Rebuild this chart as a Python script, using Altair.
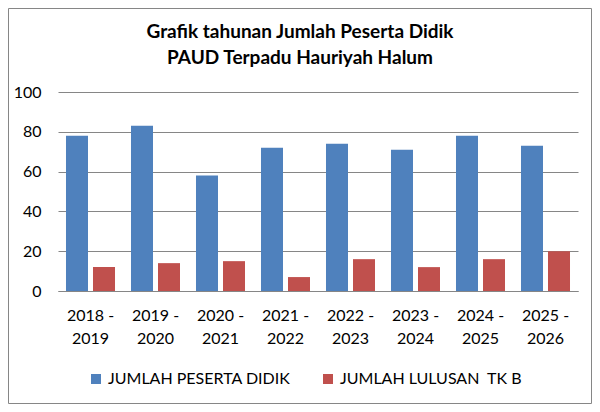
import altair as alt
import pandas as pd

categories = ["2018 - 2019", "2019 - 2020", "2020 - 2021", "2021 - 2022",
              "2022 - 2023", "2023 - 2024", "2024 - 2025", "2025 - 2026"]
series = ["JUMLAH PESERTA DIDIK", "JUMLAH LULUSAN\u00a0 TK B"]
peserta = [78, 83, 58, 72, 74, 71, 78, 73]
lulusan = [12, 14, 15, 7, 16, 12, 16, 20]
colors = ["#4F81BD", "#C0504D"]
title_lines = ["Grafik tahunan Jumlah Peserta Didik", "PAUD Terpadu Hauriyah Halum"]

rows = []
for c, p, l in zip(categories, peserta, lulusan):
    rows.append({"tahun": c, "seri": series[0], "nilai": p})
    rows.append({"tahun": c, "seri": series[1], "nilai": l})
df = pd.DataFrame(rows)

FONT = "Lato"
GRID = "#868686"

bars = alt.Chart(df).mark_bar().encode(
    x=alt.X("tahun:N", sort=categories, title=None,
            scale=alt.Scale(paddingInner=0.246, paddingOuter=0.123),
            axis=alt.Axis(labelAngle=0, ticks=False, domainColor=GRID,
                          labelFont=FONT, labelFontSize=16, labelColor="black",
                          labelPadding=16, labelLineHeight=23,
                          labelExpr="[substring(datum.label,0,6), substring(datum.label,7)]")),
    xOffset=alt.XOffset("seri:N", sort=series,
                        scale=alt.Scale(paddingInner=0.185, paddingOuter=0)),
    y=alt.Y("nilai:Q", title=None,
            scale=alt.Scale(domain=[0, 100]),
            axis=alt.Axis(values=[0, 20, 40, 60, 80, 100], domain=False, ticks=False,
                          gridColor=GRID, gridOpacity=1, labelFont=FONT,
                          labelFontSize=16, labelColor="black", labelPadding=17)),
    color=alt.Color("seri:N", sort=series,
                    scale=alt.Scale(domain=series, range=colors),
                    legend=alt.Legend(title=None, orient="none", legendX=30, legendY=279,
                                      direction="horizontal", symbolType="square",
                                      symbolSize=100, symbolStrokeWidth=0,
                                      labelFont=FONT, labelFontSize=16, labelColor="black",
                                      labelLimit=400, labelOffset=4, columnPadding=29,
                                      padding=0)),
)

border = alt.Chart(alt.Data(values=[{}])).mark_rect(
    fill="transparent", stroke=GRID, strokeWidth=1
).encode(
    x=alt.value(-49.5), x2=alt.value(533.5), y=alt.value(-83.5), y2=alt.value(311.5)
)

title1 = alt.Chart(alt.Data(values=[{}])).mark_text(
    text=title_lines[0], font=FONT, fontSize=19, fontWeight="bold", color="black",
    align="center", baseline="middle"
).encode(x=alt.value(242), y=alt.value(-60))

title2 = alt.Chart(alt.Data(values=[{}])).mark_text(
    text=title_lines[1], font=FONT, fontSize=19, fontWeight="bold", color="black",
    align="center", baseline="middle"
).encode(x=alt.value(242), y=alt.value(-34))

chart = alt.layer(border, title1, title2, bars).properties(
    width=520, height=199,
    autosize=alt.AutoSizeParams(type="none"),
    padding={"left": 50, "top": 84, "right": 14, "bottom": 113},
).configure_view(stroke=None)

chart.save("out.html", embed_options={"renderer": "svg", "actions": False})
